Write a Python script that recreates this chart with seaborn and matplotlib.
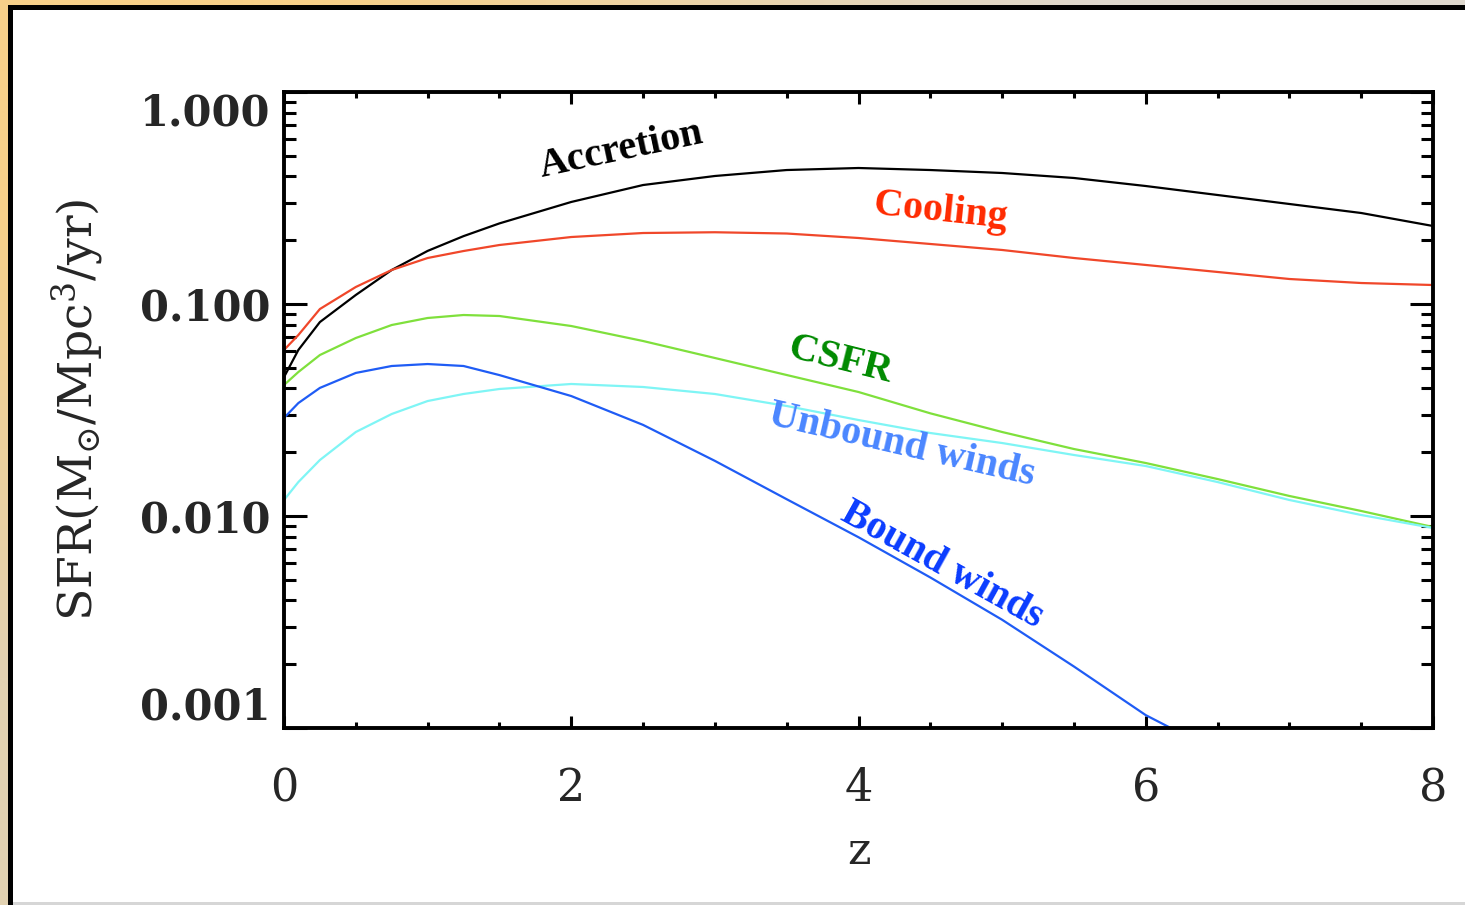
import numpy as np
import pandas as pd
import matplotlib
matplotlib.use("Agg")
import matplotlib.pyplot as plt
from matplotlib.ticker import MultipleLocator, LogLocator, FixedLocator, FormatStrFormatter, NullFormatter
from matplotlib.patches import Rectangle
import seaborn as sns

# ---- data: cosmic star-formation rate densities vs redshift ----
z = [0.0, 0.1, 0.25, 0.5, 0.75, 1.0, 1.25, 1.5, 2.0, 2.5, 3.0, 3.5,
     4.0, 4.5, 5.0, 5.5, 6.0, 6.5, 7.0, 7.5, 8.0]

accretion = [0.0452, 0.0607, 0.0822, 0.1103, 0.1447, 0.1780, 0.2090, 0.2400,
             0.3029, 0.3641, 0.4016, 0.4285, 0.4380, 0.4285, 0.4149, 0.3930,
             0.3602, 0.3267, 0.2963, 0.2687, 0.2333]

cooling = [0.0607, 0.0714, 0.0947, 0.1203, 0.1447, 0.1648, 0.1778, 0.1898,
           0.2070, 0.2162, 0.2180, 0.2150, 0.2048, 0.1919, 0.1798, 0.1648,
           0.1528, 0.1416, 0.1312, 0.1256, 0.1229]

csfr = [0.04148, 0.04777, 0.05746, 0.06912, 0.07960, 0.08590, 0.08873, 0.08777,
        0.07874, 0.06690, 0.05563, 0.04624, 0.03845, 0.03050, 0.02490, 0.02070,
        0.01778, 0.01494, 0.01243, 0.01056, 0.00887]

unbound_winds = [0.01190, 0.01446, 0.01837, 0.02490, 0.03028, 0.03486, 0.03763,
                 0.03973, 0.04195, 0.04060, 0.03763, 0.03303, 0.02836, 0.02463,
                 0.02209, 0.01940, 0.01721, 0.01446, 0.01190, 0.01011, 0.00878]

# bound winds fall below the plotted range beyond z ~ 6
z_bound = z[:18]
bound_winds = [0.0290, 0.0341, 0.0402, 0.0473, 0.0510, 0.0521, 0.0510, 0.0462,
               0.0368, 0.0269, 0.0182, 0.0120, 0.00794, 0.00513, 0.00324,
               0.00195, 0.00115, 0.00077]

series_names = ["Accretion", "Cooling", "CSFR", "Unbound winds", "Bound winds"]
line_colors = ["#000000", "#f0472a", "#7fe03c", "#7ff5f5", "#1f5cf5"]
label_colors = ["#000000", "#ff2a00", "#008a00", "#4a86ff", "#0a3cff"]

y_ticks = [1.0, 0.1, 0.01, 0.001]
x_ticks = [0, 2, 4, 6, 8]

frames = []
for name, xs, ys in [("Accretion", z, accretion), ("Cooling", z, cooling),
                     ("CSFR", z, csfr), ("Unbound winds", z, unbound_winds),
                     ("Bound winds", z_bound, bound_winds)]:
    frames.append(pd.DataFrame({"z": xs, "sfr": ys, "series": name}))
df = pd.concat(frames, ignore_index=True)

# ---- figure ----
sns.set_style("ticks")
plt.rcParams["font.family"] = ["DejaVu Serif"]
plt.rcParams["mathtext.fontset"] = "dejavuserif"

W, H = 1465, 905
fig = plt.figure(figsize=(W / 100, H / 100), dpi=100)

# page frame: warm gradient edge, dark rule, white page
bg = fig.add_axes([0, 0, 1, 1], zorder=-10)
grad = np.array([[[247, 208, 138], [222, 216, 206]],
                 [[226, 210, 178], [220, 220, 220]]], dtype=float) / 255.0
bg.imshow(grad, extent=(0, W, H, 0), interpolation="bilinear", aspect="auto")
bg.add_patch(Rectangle((8, 5), W, H, facecolor="black", edgecolor="none"))
bg.add_patch(Rectangle((13, 10), W, H - 13, facecolor="white", edgecolor="none"))
bg.add_patch(Rectangle((13, H - 3), W, 3, facecolor="#d6d6d6", edgecolor="none"))
bg.set_xlim(0, W)
bg.set_ylim(H, 0)
bg.axis("off")

ax = fig.add_axes([284 / W, 1 - 728 / H, (1433 - 284) / W, (728 - 92) / H])
ax.set_facecolor("none")

sns.lineplot(data=df, x="z", y="sfr", hue="series", hue_order=series_names,
             palette=dict(zip(series_names, line_colors)), legend=False,
             estimator=None, sort=False, linewidth=1.6, ax=ax)

ax.set_yscale("log")
ax.set_xlim(0, 8)
ax.set_ylim(0.001, 1.0)

ax.xaxis.set_major_locator(FixedLocator(x_ticks))
ax.xaxis.set_minor_locator(MultipleLocator(0.5))
ax.yaxis.set_major_locator(FixedLocator(y_ticks))
ax.yaxis.set_major_formatter(FormatStrFormatter("%.3f"))
ax.yaxis.set_minor_locator(LogLocator(base=10, subs=np.arange(2, 10)))
ax.yaxis.set_minor_formatter(NullFormatter())

for side in ax.spines.values():
    side.set_linewidth(2.8)
    side.set_color("black")

ax.tick_params(axis="both", which="both", direction="in", top=True, right=True,
               width=2.2, color="black")
ax.tick_params(axis="x", which="major", length=8.6, labelsize=32, pad=28)
ax.tick_params(axis="x", which="minor", length=4.3)
ax.tick_params(axis="y", which="major", length=16.5, labelsize=30, pad=10)
ax.tick_params(axis="y", which="minor", length=8.3)

ax.set_xlabel("z", fontsize=32, labelpad=14)
ax.set_ylabel(r"SFR(M$_{\odot}$/Mpc$^{3}$/yr)", fontsize=34, va="center")
ax.yaxis.set_label_coords(-0.179, 0.5)

# curve names written along the lines
names_pos = [
    ("Accretion", 2.35, 0.532, 12),
    ("Cooling", 4.57, 0.272, -6),
    ("CSFR", 3.87, 0.0544, -14),
    ("Unbound winds", 4.30, 0.0216, -13),
    ("Bound winds", 4.58, 0.00587, -29),
]
for (name, xz, ys, rot), col in zip(names_pos, label_colors):
    ax.text(xz, ys, name, color=col, fontsize=29, fontweight="bold",
            family="Liberation Serif", rotation=rot, rotation_mode="anchor",
            ha="center", va="center")

# bold y tick labels; keep the end ones inside the frame
fig.canvas.draw()
for lab in ax.get_yticklabels():
    lab.set_fontweight("bold")
    txt = lab.get_text()
    if txt == "1.000":
        lab.set_verticalalignment("top")
    elif txt == "0.001":
        lab.set_verticalalignment("bottom")

fig.savefig("out.png", dpi=100)
